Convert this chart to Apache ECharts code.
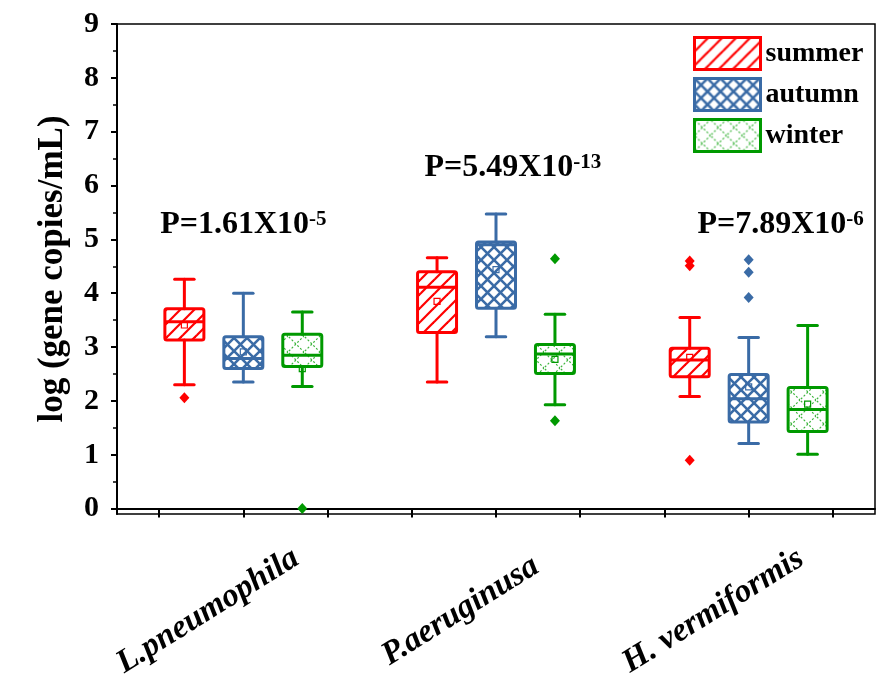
<!DOCTYPE html>
<html>
<head>
<meta charset="utf-8">
<script src="https://cdn.jsdelivr.net/npm/echarts@6/dist/echarts.min.js"></script>
<style>html,body{margin:0;padding:0;background:#fff}#c{width:878px;height:689px}</style>
</head>
<body>
<div id="c"></div>
<script>
// ---------- data ----------
const categories = ['L.pneumophila', 'P.aeruginusa', 'H. vermiformis'];
const seasons = ['summer', 'autumn', 'winter'];
// [min, Q1, median, Q3, max] per category
const summerBox = [[2.30, 3.13, 3.47, 3.71, 4.26], [2.35, 3.27, 4.11, 4.40, 4.66], [2.08, 2.45, 2.76, 2.98, 3.55]];
const autumnBox = [[2.35, 2.60, 2.79, 3.19, 4.00], [3.19, 3.72, 4.90, 4.95, 5.47], [1.21, 1.61, 2.04, 2.49, 3.18]];
const winterBox = [[2.27, 2.64, 2.85, 3.24, 3.65], [1.93, 2.51, 2.87, 3.05, 3.61], [1.01, 1.43, 1.84, 2.25, 3.40]];
const summerMean = [3.41, 3.85, 2.81];
const autumnMean = [2.91, 4.44, 2.26];
const winterMean = [2.60, 2.77, 1.94];
const summerOut = [[2.06], [], [4.60, 4.51, 0.90]];
const autumnOut = [[], [], [4.62, 4.39, 3.92]];
const winterOut = [[0.00], [4.64, 1.63], []];
const pMantissa = ['P=1.61X10', 'P=5.49X10', 'P=7.89X10'];
const pExponent = ['-5', '-13', '-6'];
const yTicks = [0, 1, 2, 3, 4, 5, 6, 7, 8, 9];
const yMinorTicks = [0.5, 1.5, 2.5, 3.5, 4.5, 5.5, 6.5, 7.5, 8.5];

// ---------- layout (not data) ----------
const groupPos = [2, 5, 8];
const seasonOffset = [-0.7, 0, 0.7];
const labelPos = groupPos.map(g => g - 0.42);
const annotPos = [[2.0, 5.27], [5.2, 6.33], [8.38, 5.27]];
const colors = ['#ff0000', '#3a6ba6', '#009900'];
const FONT = '"Liberation Serif", "Times New Roman", serif';

function makePattern(kind) {
  const s = kind === 'winter' ? 16 : (kind === 'autumn' ? 13 : 14);
  const c = document.createElement('canvas');
  c.width = s; c.height = s;
  const g = c.getContext('2d');
  g.lineCap = 'butt';
  function slash() {
    [0, s, 2 * s].forEach(k => { g.beginPath(); g.moveTo(-2, k + 2); g.lineTo(s + 2, k - s - 2); g.stroke(); });
  }
  function back() {
    [-s, 0, s].forEach(k => { g.beginPath(); g.moveTo(-2, k - 2); g.lineTo(s + 2, k + s + 2); g.stroke(); });
  }
  if (kind === 'summer') {
    g.strokeStyle = colors[0]; g.lineWidth = 2.2; slash();
  } else if (kind === 'autumn') {
    g.strokeStyle = colors[1]; g.lineWidth = 2.6; slash(); back();
  } else {
    g.strokeStyle = '#3cb43c'; g.lineWidth = 1.2; g.setLineDash([2, 2]); slash(); back();
  }
  return { image: c, repeat: 'repeat' };
}
const patterns = seasons.map(makePattern);

const boxes = [summerBox, autumnBox, winterBox];
const means = [summerMean, autumnMean, winterMean];
const outs = [summerOut, autumnOut, winterOut];

function renderBox(si) {
  const color = colors[si];
  return function (params, api) {
    const x = api.value(0);
    const v = [1, 2, 3, 4, 5].map(i => api.value(i));
    const w = api.size([1, 0])[0] * 0.463;
    const cw = w * 0.5;
    const cx = api.coord([x, v[0]])[0];
    const y = v.map(val => api.coord([x, val])[1]);
    const ls = { stroke: color, lineWidth: 3, lineCap: 'round' };
    return {
      type: 'group',
      children: [
        { type: 'line', shape: { x1: cx, y1: y[4], x2: cx, y2: y[3] }, style: ls },
        { type: 'line', shape: { x1: cx, y1: y[1], x2: cx, y2: y[0] }, style: ls },
        { type: 'line', shape: { x1: cx - cw / 2, y1: y[4], x2: cx + cw / 2, y2: y[4] }, style: ls },
        { type: 'line', shape: { x1: cx - cw / 2, y1: y[0], x2: cx + cw / 2, y2: y[0] }, style: ls },
        { type: 'rect', shape: { x: cx - w / 2, y: y[3], width: w, height: y[1] - y[3], r: 2 },
          style: { fill: patterns[si], stroke: color, lineWidth: 3 } },
        { type: 'line', shape: { x1: cx - w / 2, y1: y[2], x2: cx + w / 2, y2: y[2] }, style: { stroke: color, lineWidth: 3 } }
      ]
    };
  };
}

const series = [];
seasons.forEach((name, si) => {
  series.push({
    name: name, type: 'custom', xAxisIndex: 0, yAxisIndex: 0,
    renderItem: renderBox(si),
    encode: { x: 0, y: [1, 2, 3, 4, 5] },
    itemStyle: { color: patterns[si], borderColor: colors[si], borderWidth: 3 },
    data: boxes[si].map((b, i) => [groupPos[i] + seasonOffset[si]].concat(b)),
    silent: true, z: 2
  });
});
seasons.forEach((name, si) => {
  const od = [];
  outs[si].forEach((arr, i) => arr.forEach(val => od.push([groupPos[i] + seasonOffset[si], val])));
  series.push({
    name: name + ' outliers', type: 'scatter', symbol: 'diamond', symbolSize: [10, 11],
    itemStyle: { color: colors[si], opacity: 1 }, data: od, silent: true, z: 3, clip: false
  });
  series.push({
    name: name + ' mean', type: 'scatter', symbol: 'rect', symbolSize: 6,
    itemStyle: { color: 'rgba(255,255,255,0)', borderColor: colors[si], borderWidth: 1.2, opacity: 1 },
    data: means[si].map((m, i) => [groupPos[i] + seasonOffset[si], m]), silent: true, z: 4
  });
});
series.push({
  name: 'p', type: 'scatter', symbolSize: 0, silent: true, z: 5,
  itemStyle: { opacity: 1 },
  data: annotPos.map((p, i) => ({ value: p, mant: pMantissa[i], exp: pExponent[i] })),
  label: {
    show: true, position: 'inside', color: '#000', opacity: 1, textBorderWidth: 0, textBorderColor: 'transparent',
    formatter: p => '{m|' + p.data.mant + '}{s|' + p.data.exp + '}',
    rich: {
      m: { fontFamily: FONT, fontWeight: 'bold', fontSize: 32, color: '#000', textBorderWidth: 0, verticalAlign: 'bottom' },
      s: { fontFamily: FONT, fontWeight: 'bold', fontSize: 21, color: '#000', textBorderWidth: 0, verticalAlign: 'top' }
    }
  }
});

const chart = echarts.init(document.getElementById('c'), null, { renderer: 'canvas' });
chart.setOption({
  backgroundColor: '#fff',
  animation: false,
  grid: { left: 117, right: 3, top: 24, bottom: 175, show: true, borderColor: '#000', borderWidth: 1.5, outerBoundsMode: 'none' },
  legend: {
    orient: 'vertical', left: 688, top: 31, itemWidth: 66, itemHeight: 32, itemGap: 6, icon: 'rect',
    selectedMode: false,
    textStyle: { fontFamily: FONT, fontWeight: 'bold', fontSize: 28, color: '#000' },
    data: seasons.map((s, si) => ({ name: s, itemStyle: { color: patterns[si], borderColor: colors[si], borderWidth: 3 } }))
  },
  xAxis: [{
    type: 'value', min: 0.5, max: 9.5, splitLine: { show: false },
    axisLine: { show: true, lineStyle: { color: '#000', width: 2 } },
    axisTick: { show: true, inside: false, length: 9, lineStyle: { color: '#000', width: 2 }, customValues: [1, 2, 3, 4, 5, 6, 7, 8, 9] },
    axisLabel: {
      customValues: labelPos, rotate: 32, margin: 97, align: 'center', verticalAlign: 'middle',
      fontFamily: FONT, fontWeight: 'bold', fontStyle: 'italic', fontSize: 33, color: '#000',
      formatter: v => {
        let best = 0;
        labelPos.forEach((p, i) => { if (Math.abs(p - v) < Math.abs(labelPos[best] - v)) best = i; });
        return categories[best];
      }
    }
  }],
  yAxis: [{
    type: 'value', min: -0.1, max: 9, splitLine: { show: false },
    name: 'log (gene copies/mL)', nameLocation: 'middle', nameGap: 47,
    nameTextStyle: { fontFamily: FONT, fontWeight: 'bold', fontSize: 35, color: '#000' },
    axisLine: { show: true, lineStyle: { color: '#000', width: 2 } },
    axisTick: { show: true, length: 6, lineStyle: { color: '#000', width: 2 }, customValues: yTicks },
    axisLabel: { customValues: yTicks, margin: 18, fontFamily: FONT, fontWeight: 'bold', fontSize: 30, color: '#000' }
  }, {
    type: 'value', min: -0.1, max: 9, position: 'left', splitLine: { show: false },
    axisLine: { show: false },
    axisTick: { show: true, length: 4, lineStyle: { color: '#000', width: 1.5 }, customValues: yMinorTicks },
    axisLabel: { show: false }
  }],
  series: series
});
</script>
</body>
</html>
